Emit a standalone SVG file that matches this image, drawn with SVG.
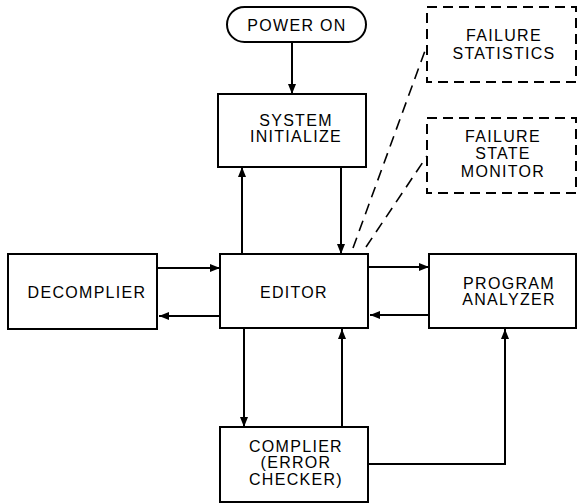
<svg xmlns="http://www.w3.org/2000/svg" width="578" height="503" viewBox="0 0 578 503">
<style>
.box{fill:#fff;stroke:#000;stroke-width:2}
.dbox{fill:#fff;stroke:#000;stroke-width:2;stroke-dasharray:10,6}
.ln{fill:none;stroke:#000;stroke-width:2}
.dl{fill:none;stroke:#000;stroke-width:1.6;stroke-dasharray:11,7}
text{font-family:"Liberation Sans",Arial,sans-serif;font-size:16px;letter-spacing:1.3px;text-anchor:middle;fill:#000}
</style>
<defs>
<marker id="ah" viewBox="0 0 10 8" refX="10" refY="4" markerWidth="10" markerHeight="8" markerUnits="userSpaceOnUse" orient="auto">
<path d="M0,0 L10,4 L0,8 Z" fill="#000"/>
</marker>
</defs>
<g id="connectors">
<path class="ln" d="M292,42 V94" marker-end="url(#ah)"/>
<path class="ln" d="M242,254 V167" marker-end="url(#ah)"/>
<path class="ln" d="M341,167 V254" marker-end="url(#ah)"/>
<path class="ln" d="M157,268 H220" marker-end="url(#ah)"/>
<path class="ln" d="M220,316 H159" marker-end="url(#ah)"/>
<path class="ln" d="M368,267 H429" marker-end="url(#ah)"/>
<path class="ln" d="M429,315 H370" marker-end="url(#ah)"/>
<path class="ln" d="M244,328 V427" marker-end="url(#ah)"/>
<path class="ln" d="M342,427 V329" marker-end="url(#ah)"/>
<path class="ln" d="M368,464 H505 V329" marker-end="url(#ah)"/>
<path class="dl" d="M353,248 L426,48"/>
<path class="dl" d="M366,247 L427,156"/>
</g>
<g id="power-on">
<rect class="box" x="227" y="7" width="139" height="35" rx="17.5"/>
<text x="297" y="31">POWER ON</text>
</g>
<g id="system-initialize">
<rect class="box" x="218" y="94" width="148" height="73"/>
<text x="296" y="126">SYSTEM</text>
<text x="296" y="142">INITIALIZE</text>
</g>
<g id="editor">
<rect class="box" x="220" y="254" width="148" height="74"/>
<text x="294" y="298">EDITOR</text>
</g>
<g id="decomplier">
<rect class="box" x="8" y="254" width="149" height="75"/>
<text x="87" y="298">DECOMPLIER</text>
</g>
<g id="program-analyzer">
<rect class="box" x="429" y="254" width="147" height="74"/>
<text x="509" y="289">PROGRAM</text>
<text x="509" y="305">ANALYZER</text>
</g>
<g id="complier">
<rect class="box" x="220" y="427" width="148" height="75"/>
<text x="296" y="452">COMPLIER</text>
<text x="296" y="468">(ERROR</text>
<text x="296" y="485">CHECKER)</text>
</g>
<g id="failure-statistics">
<rect class="dbox" x="427" y="7" width="149" height="75"/>
<text x="504" y="41">FAILURE</text>
<text x="504" y="59">STATISTICS</text>
</g>
<g id="failure-state-monitor">
<rect class="dbox" x="427" y="118" width="149" height="75"/>
<text x="503" y="142">FAILURE</text>
<text x="503" y="159">STATE</text>
<text x="503" y="177">MONITOR</text>
</g>
</svg>
